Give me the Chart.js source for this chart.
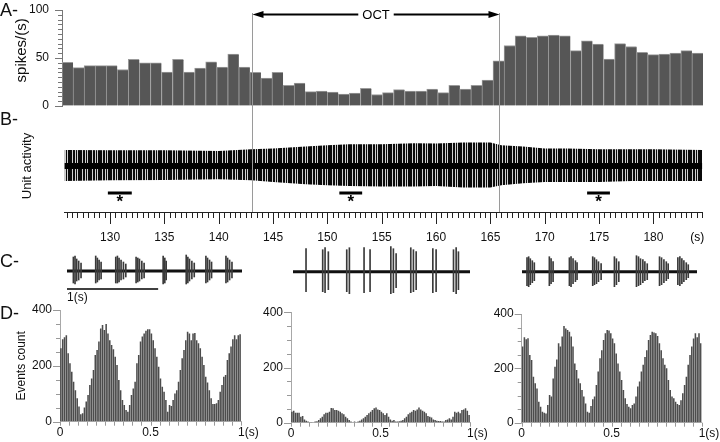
<!DOCTYPE html>
<html>
<head>
<meta charset="utf-8">
<script src="https://cdn.jsdelivr.net/npm/chart.js@4.4.1/dist/chart.umd.min.js"></script>
<style>
  html, body { margin: 0; padding: 0; background: #fff; }
  #fig { position: relative; width: 720px; height: 442px; overflow: hidden; font-family: 'Liberation Sans', Arial, sans-serif; }
  #fig canvas { position: absolute; }
  .tag { position: absolute; left: 0; font-size: 18px; line-height: 1; color: #111; }
</style>
</head>
<body>
<div id="fig">
  <canvas id="rateChart" width="720" height="114" style="left:0;top:0"></canvas>
  <canvas id="unitChart" width="720" height="140" style="left:0;top:110px"></canvas>
  <canvas id="histPre" width="262" height="142" style="left:0;top:300px"></canvas>
  <canvas id="histOct" width="230" height="142" style="left:262px;top:300px"></canvas>
  <canvas id="histPost" width="228" height="142" style="left:492px;top:300px"></canvas>
  <canvas id="tracePre" width="175" height="60" style="left:67px;top:245px"></canvas>
  <canvas id="traceOct" width="177" height="60" style="left:293px;top:245px"></canvas>
  <canvas id="tracePost" width="175" height="60" style="left:522px;top:245px"></canvas>
  <div class="tag" style="top:1px">A-</div>
  <div class="tag" style="top:110px">B-</div>
  <div class="tag" style="top:252px">C-</div>
  <div class="tag" style="top:304px">D-</div>
</div>
<script>
// ---- A: firing rate, 1 s bins (spikes/s)
const rateValues = [45.5, 40, 42, 42, 42, 38, 48.6, 45, 45, 35.4, 48.6, 35.4, 39.6, 46, 40.6, 54, 40.6,
  35, 29, 35, 21.5, 24, 15, 15.6, 14.6, 12.5, 13.5, 18.4, 12, 14, 17, 15.6, 15.6, 17.7, 14, 21.5, 17.7, 21.5, 27,
  47, 63, 73, 71.5, 73, 74, 73, 57.6, 68, 64.6, 49, 65, 62, 56, 53.5, 54, 55, 57.6, 55]
const rateTitle = 'spikes/(s)'

// time axis (s)
const timeMin = 125.8, timeMax = 184.5
const rateTimeMin = 125.58, rateTimeMax = 184.56
const octStart = 143.1, octEnd = 165.8
const octLabel = 'OCT'

// ---- B: unit activity envelope (upper / lower spike amplitude)
const envTimes = [125.8, 130, 135, 140, 143, 145, 148, 150, 152, 155, 158, 160, 162.5, 165, 166, 168, 170, 172, 175, 178, 180, 184.5]
const envUp    = [16, 15.7, 15.7, 15, 16.7, 17.4, 19.4, 20.7, 21.7, 21.7, 22.7, 22.4, 23.4, 23.4, 20.7, 19.4, 17.4, 17.4, 16.7, 16.7, 16.7, 16]
const envDown  = [15, 14.3, 14, 13.3, 14.3, 16, 18.3, 19.3, 20, 20.6, 20.6, 20, 21.6, 21.6, 19.3, 17.3, 16, 16, 16, 15, 15, 15]
const windowStart = [129.8, 151.1, 173.9]
const windowEnd = [132.0, 153.2, 176.0]
const timeLabelStep = 5

// ---- C: 2 s trace excerpts, spike times (s) and amplitudes
const preTimes = [0.070, 0.088, 0.106, 0.128, 0.154, 0.315, 0.333, 0.352, 0.374, 0.535, 0.553, 0.571, 0.593, 0.619, 0.645,
  0.758, 0.777, 0.795, 0.821, 0.846, 1.055, 1.073, 1.088, 1.308, 1.326, 1.344, 1.370, 1.396,
  1.524, 1.542, 1.564, 1.586, 1.744, 1.762, 1.784, 1.810]
const preUp   = [14, 15, 12, 10, 8, 15, 13, 11, 9, 14, 15, 13, 11, 9, 7, 14, 13, 12, 10, 8, 15, 13, 10, 16, 14, 12, 10, 8, 15, 13, 11, 9, 15, 13, 11, 9]
const preDown = [12, 13, 10, 9, 7, 12, 11, 9, 8, 12, 12, 11, 9, 8, 6, 12, 11, 10, 8, 7, 13, 12, 9, 13, 12, 10, 8, 6, 12, 11, 9, 7, 12, 11, 9, 7]

const octTimes = [0.143, 0.326, 0.352, 0.388, 0.590, 0.619, 0.780, 0.846, 1.074, 1.102, 1.132, 1.293, 1.322, 1.352, 1.535, 1.571, 1.762, 1.791, 1.816]
const octUp   = [23, 22, 24, 20, 22, 24, 24, 22, 25, 23, 18, 24, 22, 20, 23, 22, 22, 24, 20]
const octDown = [20, 20, 21, 18, 20, 22, 21, 20, 22, 21, 16, 21, 20, 18, 21, 20, 20, 22, 18]

const postTimes = [0.055, 0.073, 0.091, 0.113, 0.135, 0.300, 0.319, 0.341, 0.520, 0.538, 0.560, 0.586, 0.604,
  0.776, 0.795, 0.817, 0.839, 0.868, 1.014, 1.036, 1.062, 1.256, 1.278, 1.300, 1.326, 1.348, 1.374,
  1.509, 1.531, 1.557, 1.583, 1.604, 1.710, 1.732, 1.754, 1.776, 1.802, 1.824]
const postUp   = [14, 15, 13, 11, 9, 15, 13, 10, 14, 15, 13, 11, 9, 15, 14, 12, 10, 8, 15, 13, 10, 16, 15, 13, 12, 10, 8, 15, 14, 12, 10, 8, 14, 15, 13, 11, 9, 7]
const postDown = [14, 15, 13, 11, 9, 14, 12, 10, 14, 15, 12, 10, 8, 14, 13, 12, 10, 8, 15, 13, 10, 15, 14, 13, 11, 9, 8, 14, 13, 11, 9, 7, 13, 14, 12, 10, 8, 6]
const scaleBarLabel = '1(s)'

// ---- D: autocorrelograms, 10 ms bins (events count)
const histPre = [263, 295, 302, 310, 245, 209, 179, 143, 113, 84, 54, 27, 30, 51, 72, 96, 131, 155, 185, 239,
  257, 287, 334, 346, 328, 350, 316, 292, 275, 259, 233, 203, 149, 113, 78, 60, 42, 36, 60, 96,
  119, 143, 209, 239, 287, 305, 316, 326, 331, 331, 316, 292, 263, 233, 197, 155, 125, 107, 78, 36,
  60, 56, 78, 101, 113, 143, 185, 227, 257, 292, 322, 316, 292, 316, 318, 292, 281, 263, 233, 203,
  161, 140, 113, 84, 63, 63, 66, 78, 107, 131, 161, 167, 221, 245, 269, 295, 310, 295, 310, 313]
const histOct = [40, 43, 36, 36, 36, 22, 24, 12, 7, 4, 1, 1, 2, 4, 5, 10, 16, 22, 31, 36,
  36, 40, 53, 52, 46, 46, 43, 40, 34, 31, 22, 16, 10, 4, 2, 4, 2, 4, 7, 12,
  16, 22, 28, 34, 40, 46, 52, 55, 48, 46, 40, 34, 28, 34, 22, 12, 7, 10, 4, 4,
  5, 7, 10, 16, 22, 31, 36, 40, 46, 43, 48, 55, 48, 43, 40, 34, 24, 22, 19, 12,
  10, 7, 6, 6, 4, 4, 10, 12, 16, 12, 22, 40, 36, 40, 34, 46, 48, 52, 43, 28]
const histPost = [280, 314, 307, 311, 249, 231, 169, 145, 126, 77, 59, 40, 37, 34, 65, 102, 96, 163, 206, 233,
  292, 280, 317, 356, 347, 341, 335, 317, 280, 218, 194, 163, 145, 120, 96, 71, 40, 37, 61, 86,
  96, 139, 188, 237, 267, 304, 329, 341, 339, 329, 310, 292, 255, 218, 188, 157, 120, 90, 69, 59,
  53, 65, 71, 96, 133, 152, 188, 213, 242, 267, 304, 323, 335, 332, 329, 319, 292, 267, 237, 213,
  200, 157, 120, 96, 90, 77, 69, 65, 83, 108, 139, 169, 213, 249, 280, 310, 329, 314, 329, 292]
const lagTickValues = [0, 0.5, 1]
const lagTickLabels = ['0', '0.5', '1(s)']

Chart.defaults.font.family = "'Liberation Sans', Arial, sans-serif"
Chart.defaults.font.size = 12
Chart.defaults.color = '#111'
Chart.defaults.animation = false
Chart.defaults.plugins.legend.display = false
Chart.defaults.plugins.tooltip.enabled = false

const near = (v, step) => Math.abs(v / step - Math.round(v / step)) < 1e-6
// invisible grid ticks only used to keep labels clear of the axis
const gapGrid = len => ({ display: true, drawOnChartArea: false, drawTicks: true, tickLength: len,
  color: 'rgba(0,0,0,0)', tickColor: 'rgba(0,0,0,0)' })

// tick marks of two lengths, drawn from the scale's own ticks
function tickMarks(axisId, color, lenFn) {
  return {
    id: 'ticks_' + axisId,
    afterDraw(chart) {
      const scale = chart.scales[axisId]
      const ctx = chart.ctx
      ctx.save()
      ctx.strokeStyle = color
      ctx.lineWidth = 1
      ctx.beginPath()
      scale.ticks.forEach(t => {
        const len = lenFn(t.value)
        if (scale.isHorizontal()) {
          const x = Math.round(scale.getPixelForValue(t.value)) + 0.5
          ctx.moveTo(x, scale.top); ctx.lineTo(x, scale.top + len)
        } else {
          const y = Math.round(scale.getPixelForValue(t.value)) + 0.5
          ctx.moveTo(scale.right, y); ctx.lineTo(scale.right - len, y)
        }
      })
      ctx.stroke()
      ctx.restore()
    }
  }
}

function octLines(fromY, bottomFn) {
  return {
    id: 'octLines',
    afterDatasetsDraw(chart) {
      const s = chart.scales.x
      const ctx = chart.ctx
      const bottom = bottomFn(chart)
      ctx.save()
      ctx.strokeStyle = '#9a9a9a'
      ctx.lineWidth = 1
      ctx.beginPath()
      ;[octStart, octEnd].forEach(t => {
        const x = Math.round(s.getPixelForValue(t)) + 0.5
        ctx.moveTo(x, fromY); ctx.lineTo(x, bottom)
      })
      ctx.stroke()
      ctx.restore()
    }
  }
}

// ---------------- A
const octArrow = {
  id: 'octArrow',
  afterDraw(chart) {
    const s = chart.scales.x
    const ctx = chart.ctx
    const x1 = Math.round(s.getPixelForValue(octStart)) + 0.5, x2 = Math.round(s.getPixelForValue(octEnd)) + 0.5
    const y = 14.5, mid = (x1 + x2) / 2
    ctx.save()
    ctx.font = "13px 'Liberation Sans', Arial, sans-serif"
    const w = ctx.measureText(octLabel).width
    ctx.strokeStyle = '#000'; ctx.fillStyle = '#000'; ctx.lineWidth = 2
    ctx.beginPath()
    ctx.moveTo(x1 + 8, y); ctx.lineTo(mid - w / 2 - 4, y)
    ctx.moveTo(mid + w / 2 + 4, y); ctx.lineTo(x2 - 8, y)
    ctx.stroke()
    ctx.beginPath()
    ctx.moveTo(x1, y); ctx.lineTo(x1 + 11, y - 3.5); ctx.lineTo(x1 + 11, y + 3.5); ctx.closePath()
    ctx.moveTo(x2, y); ctx.lineTo(x2 - 11, y - 3.5); ctx.lineTo(x2 - 11, y + 3.5); ctx.closePath()
    ctx.fill()
    ctx.textAlign = 'center'; ctx.textBaseline = 'middle'
    ctx.fillText(octLabel, mid, y + 0.5)
    // rotated axis title, sitting a little above the axis centre as in the figure
    const ya = chart.scales.y
    ctx.translate(21.5, ya.getPixelForValue(58))
    ctx.rotate(-Math.PI / 2)
    ctx.font = "15px 'Liberation Sans', Arial, sans-serif"
    ctx.fillStyle = '#111'
    ctx.fillText(rateTitle, 0, 0)
    ctx.restore()
  }
}

const rateBinWidth = (rateTimeMax - rateTimeMin) / rateValues.length
new Chart(document.getElementById('rateChart'), {
  type: 'bar',
  data: {
    datasets: [{ data: rateValues.map((v, i) => ({ x: rateTimeMin + (i + 0.5) * rateBinWidth, y: v })),
      backgroundColor: '#565656', borderColor: '#9a9a9a',
      borderWidth: { left: 1, top: 1, right: 0, bottom: 0 }, borderSkipped: false,
      barPercentage: 1, categoryPercentage: 1 }]
  },
  options: {
    responsive: false,
    layout: { padding: { left: 0, right: 17, top: 10, bottom: 8 } },
    scales: {
      x: { type: 'linear', display: false, min: rateTimeMin, max: rateTimeMax, offset: false },
      y: {
        min: 0, max: 100,
        border: { display: true, color: '#777' },
        grid: gapGrid(13),
        ticks: { stepSize: 5, autoSkip: false, padding: 0, callback: v => near(v, 50) ? String(v) : '' },
        afterFit: s => { s.width = 62 }
      }
    }
  },
  plugins: [tickMarks('y', '#777', v => near(v, 50) ? 7 : 4), octLines(13, c => c.chartArea.bottom + 4), octArrow]
})

// ---------------- B
function spikePattern() {
  const stripe = '1101101011'
  const c = document.createElement('canvas')
  c.width = stripe.length; c.height = 4
  const g = c.getContext('2d')
  for (let i = 0; i < stripe.length; i++) {
    g.fillStyle = stripe[i] === '1' ? '#0a0a0a' : '#d0d0d0'
    g.fillRect(i, 0, 1, 4)
  }
  return g.createPattern(c, 'repeat')
}

const windowStars = {
  id: 'windowStars',
  afterDatasetsDraw(chart) {
    const { x, y } = chart.scales
    const ctx = chart.ctx
    ctx.save()
    ctx.font = "bold 17px 'Liberation Sans', Arial, sans-serif"
    ctx.fillStyle = '#000'; ctx.textAlign = 'center'; ctx.textBaseline = 'middle'
    windowStart.forEach((s, i) => ctx.fillText('*', x.getPixelForValue((s + windowEnd[i]) / 2), y.getPixelForValue(-36)))
    // unit after the last time label
    ctx.font = "12px 'Liberation Sans', Arial, sans-serif"
    ctx.fillText('(s)', x.right - 5, x.top + 18 + 7.2)
    ctx.restore()
  }
}

new Chart(document.getElementById('unitChart'), {
  type: 'line',
  data: {
    datasets: [
      { data: [{ x: timeMin, y: 0 }, { x: timeMax, y: 0 }], borderColor: '#000', borderWidth: 6, pointRadius: 0 },
      { data: envTimes.map((t, i) => ({ x: t, y: envUp[i] })), borderWidth: 0, borderColor: 'rgba(0,0,0,0)',
        pointRadius: 0, fill: '+1', backgroundColor: spikePattern() },
      { data: envTimes.map((t, i) => ({ x: t, y: -envDown[i] })), borderWidth: 0, borderColor: 'rgba(0,0,0,0)', pointRadius: 0 },
      ...windowStart.map((s, i) => ({ data: [{ x: s, y: -27 }, { x: windowEnd[i], y: -27 }], borderColor: '#000', borderWidth: 3, pointRadius: 0 }))
    ]
  },
  options: {
    responsive: false,
    layout: { padding: { left: 0, right: 17.7, top: 10, bottom: 0 } },
    scales: {
      x: {
        type: 'linear', min: timeMin, max: timeMax, offset: false,
        border: { display: true, color: '#222' },
        grid: gapGrid(18),
        ticks: { stepSize: 0.5, includeBounds: false, autoSkip: false, maxRotation: 0, padding: 0,
          callback: v => near(v, timeLabelStep) ? String(Math.round(v)) : '' },
        afterFit: s => { s.height = 38 }
      },
      y: {
        min: -46, max: 46,
        ticks: { display: false }, grid: { display: false, drawTicks: false }, border: { display: false },
        title: { display: true, text: 'Unit activity', font: { size: 13 }, padding: { top: 20, bottom: 0 } },
        afterFit: s => { s.width = 64.4 }
      }
    }
  },
  plugins: [octLines(0, c => c.chartArea.bottom), tickMarks('x', '#222', v => near(v, timeLabelStep) ? 12 : 6), windowStars]
})

// ---------------- C
function traceChart(id, times, up, down, duration, center, withScaleBar) {
  const datasets = [
    { type: 'bar', data: times.map((t, i) => ({ x: t, y: [-down[i], up[i]] })), backgroundColor: '#3a3a3a', barThickness: 1 },
    { type: 'line', data: [{ x: 0, y: 0 }, { x: duration, y: 0 }], borderColor: '#111', borderWidth: 3, pointRadius: 0 }
  ]
  if (withScaleBar) {
    datasets.push({ type: 'line', data: [{ x: 0, y: -18 }, { x: 1, y: -18 }], borderColor: '#000', borderWidth: 1.5, pointRadius: 0 })
  }
  const barLabel = {
    id: 'barLabel',
    afterDraw(chart) {
      if (!withScaleBar) return
      const { x, y } = chart.scales
      const ctx = chart.ctx
      ctx.save()
      ctx.font = "12px 'Liberation Sans', Arial, sans-serif"
      ctx.fillStyle = '#111'; ctx.textBaseline = 'middle'
      ctx.fillText(scaleBarLabel, x.getPixelForValue(0), y.getPixelForValue(-27))
      ctx.restore()
    }
  }
  const canvas = document.getElementById(id)
  return new Chart(canvas, {
    type: 'bar',
    data: { datasets },
    options: {
      responsive: false,
      layout: { padding: 0 },
      scales: {
        x: { type: 'linear', display: false, min: 0, max: duration, offset: false },
        y: { display: false, min: center - canvas.height, max: center }
      }
    },
    plugins: [barLabel]
  })
}
traceChart('tracePre', preTimes, preUp, preDown, 1.92, 26, true)
traceChart('traceOct', octTimes, octUp, octDown, 1.943, 26.7, false)
traceChart('tracePost', postTimes, postUp, postDown, 1.92, 26.7, false)

// ---------------- D
function histChart(id, counts, o) {
  const lastLabel = {
    id: 'lastLabel',
    afterDraw(chart) {
      const x = chart.scales.x
      const ctx = chart.ctx
      ctx.save()
      ctx.font = "12px 'Liberation Sans', Arial, sans-serif"
      ctx.fillStyle = '#111'; ctx.textBaseline = 'middle'; ctx.textAlign = 'left'
      const last = lagTickValues.length - 1
      ctx.fillText(lagTickLabels[last], x.getPixelForValue(lagTickValues[last]) - 3, x.top + 4 + 7.2)
      ctx.restore()
    }
  }
  return new Chart(document.getElementById(id), {
    type: 'bar',
    data: {
      datasets: [{ data: counts.map((c, i) => ({ x: (i + 0.5) / counts.length, y: c })),
        backgroundColor: '#4c4c4c', barPercentage: 0.86, categoryPercentage: 1 }]
    },
    options: {
      responsive: false,
      layout: { padding: { left: 0, right: o.right, top: o.top, bottom: 0 } },
      scales: {
        x: {
          type: 'linear', min: 0, max: 1, offset: false,
          border: { display: true, color: '#b5b5b5' },
          grid: gapGrid(4),
          ticks: { stepSize: 0.05, autoSkip: false, maxRotation: 0, padding: 0,
            callback: v => {
              const k = lagTickValues.findIndex(t => Math.abs(t - v) < 1e-6)
              return k >= 0 && k < lagTickValues.length - 1 ? lagTickLabels[k] : ''
            } },
          afterFit: s => { s.height = o.xh }
        },
        y: {
          min: 0, max: 400,
          border: { display: true, color: '#a8a8a8' },
          grid: gapGrid(8),
          ticks: { stepSize: 50, autoSkip: false, padding: 0, callback: v => near(v, 200) ? String(v) : '' },
          title: { display: !!o.title, text: o.title || '', font: { size: 12 }, padding: { top: 14, bottom: 0 } },
          afterFit: s => { s.width = o.yw }
        }
      }
    },
    plugins: [tickMarks('x', '#999', () => 4), tickMarks('y', '#999', v => near(v, 200) ? 7 : 4), lastLabel]
  })
}
histChart('histPre', histPre, { top: 10, right: 21, xh: 20.3, yw: 60, title: 'Events count' })
histChart('histOct', histOct, { top: 12.3, right: 22, xh: 19.3, yw: 29 })
histChart('histPost', histPost, { top: 14, right: 18.3, xh: 19.3, yw: 29.7 })
</script>
</body>
</html>
